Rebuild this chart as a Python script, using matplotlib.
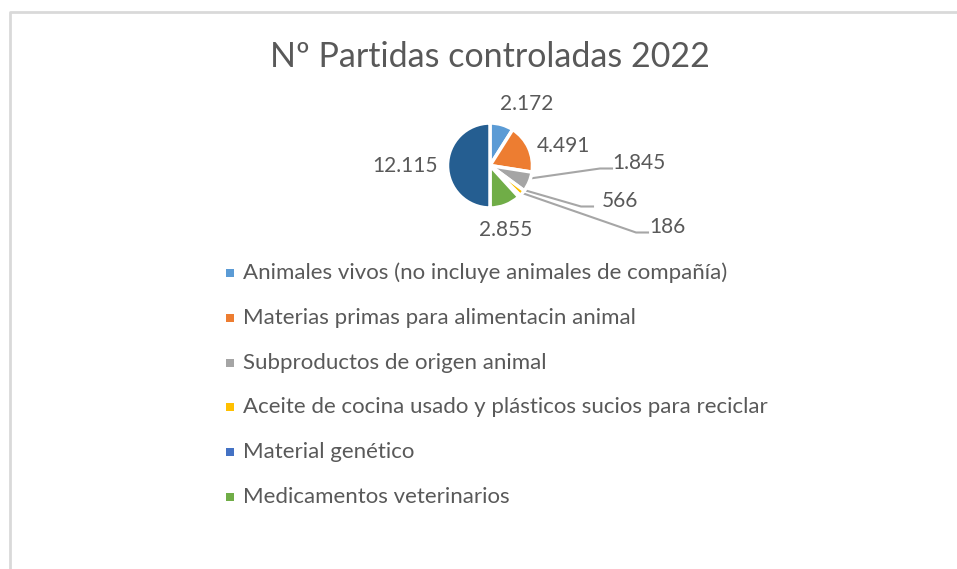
import numpy as np
import matplotlib.pyplot as plt
from matplotlib.patches import Rectangle

# data
categories = ["Animales vivos (no incluye animales de compañía)",
              "Materias primas para alimentacin animal",
              "Subproductos de origen animal",
              "Aceite de cocina usado y plásticos sucios para reciclar",
              "Material genético",
              "Medicamentos veterinarios",
              ""]
values = [2172, 4491, 1845, 566, 186, 2855, 12115]
value_labels = ["2.172", "4.491", "1.845", "566", "186", "2.855", "12.115"]
colors = ["#5B9BD5", "#ED7D31", "#A5A5A5", "#FFC000", "#4472C4", "#70AD47", "#255E91"]
n_legend = 6  # last slice has no legend entry in the original

txt = "#595959"
plt.rcParams['font.family'] = ['Lato', 'DejaVu Sans']

W, H = 957, 569
fig = plt.figure(figsize=(W / 100, H / 100), dpi=100)
ax = fig.add_axes([0, 0, 1, 1])
ax.set_xlim(0, W)
ax.set_ylim(H, 0)
ax.axis('off')

# chart border (only top and left visible)
ax.plot([10, 10, W + 5], [H + 5, 12, 12], color="#D9D9D9", lw=2, solid_capstyle='butt')

ax.text(490, 57, "Nº Partidas controladas 2022", fontsize=24.5, color=txt,
        ha='center', va='center')

# pie in its own axes (y up)
cx, cy, r = 490, 165.5, 42.5
pax = fig.add_axes([0, 0, 1, 1])
pax.set_xlim(0, W)
pax.set_ylim(0, H)
pax.axis('off')
wedges, _ = pax.pie(values, colors=colors, startangle=90, counterclock=False,
                    center=(cx, H - cy), radius=r,
                    wedgeprops=dict(edgecolor='white', linewidth=2.5))
pax.set_xlim(0, W)
pax.set_ylim(0, H)
pax.set_aspect('auto')

# label placement (offsets in pixels from the centre, y down)
label_offsets = [(37, -62), (73, -20), (149, -3), (130, 35), (177, 61), (16, 64), (-85, 0)]
leaders = {2: 0.85, 3: 0.8, 4: 0.8}
for i, (w, lab) in enumerate(zip(wedges, value_labels)):
    dx, dy = label_offsets[i]
    lx, ly = cx + dx, cy + dy
    ax.text(lx, ly, lab, fontsize=15, color=txt, ha='center', va='center')
    if i in leaders:
        ang = np.deg2rad((w.theta1 + w.theta2) / 2)
        px = cx + r * leaders[i] * np.cos(ang)
        py = cy - r * leaders[i] * np.sin(ang)
        ex = lx - 27 if i != 4 else lx - 19
        ax.plot([px, ex - 12, ex], [py, ly + 6, ly + 6], color="#A6A6A6", lw=1.5)

# legend
lx0, ly0, step = 230, 273, 44.8
for i in range(n_legend):
    y = ly0 + i * step
    ax.add_patch(Rectangle((lx0 - 4, y - 4), 8, 8, color=colors[i], lw=0))
    ax.text(lx0 + 13, y, categories[i], fontsize=16, color=txt, ha='left', va='center')

fig.savefig("out.png", dpi=100)
